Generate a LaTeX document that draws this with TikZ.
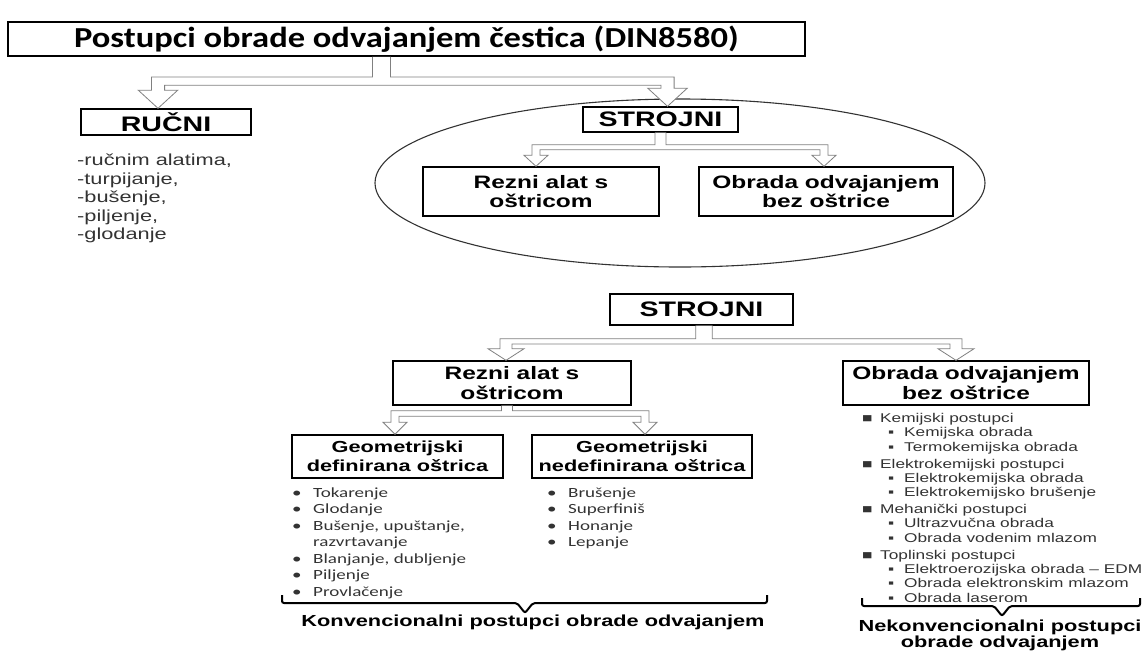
\documentclass[tikz,border=0pt]{standalone}
\usepackage{fontspec}
\usetikzlibrary{calc}
\newfontfamily\arialw{Liberation Sans}[FakeStretch=1.36]
\newfontfamily\calw{Carlito}[FakeStretch=1.36]
\newfontfamily\calt{Carlito}[FakeStretch=1.19]
\newcommand{\fsz}[2]{\fontsize{#1}{#2}\selectfont}
\newcommand{\bitem}[1]{\makebox[21pt][l]{•}#1}
\newcommand{\mitem}[1]{\makebox[18pt][l]{■}#1}
\newcommand{\sitem}[1]{\hspace*{26pt}\makebox[16pt][l]{▪}#1}
% source, stem shift, left target, left shift, right target, right shift, width factor, drop, height factor
\newcommand{\forkarrow}[9]{%
  \pgfmathsetmacro\fkstem{5.5*#7}\pgfmathsetmacro\fkbranch{4*#7}\pgfmathsetmacro\fkhead{12*#7}%
  \pgfmathsetmacro\fkgap{5*#9}\pgfmathsetmacro\fkheadh{11*#9}%
  \draw[forkline] let \p1=([xshift=#2pt]#1.south), \p2=([xshift=#4pt]#3.north), \p3=([xshift=#6pt]#5.north) in
    (\x1-\fkstem pt,\y1) -- (\x1-\fkstem pt,\y1-#8pt) -- (\x2-\fkbranch pt,\y1-#8pt)
    -- (\x2-\fkbranch pt,\y2+\fkheadh pt) -- (\x2-\fkhead pt,\y2+\fkheadh pt) -- (\p2)
    -- (\x2+\fkhead pt,\y2+\fkheadh pt) -- (\x2+\fkbranch pt,\y2+\fkheadh pt)
    -- (\x2+\fkbranch pt,\y1-#8pt-\fkgap pt) -- (\x3-\fkbranch pt,\y1-#8pt-\fkgap pt)
    -- (\x3-\fkbranch pt,\y3+\fkheadh pt) -- (\x3-\fkhead pt,\y3+\fkheadh pt) -- (\p3)
    -- (\x3+\fkhead pt,\y3+\fkheadh pt) -- (\x3+\fkbranch pt,\y3+\fkheadh pt)
    -- (\x3+\fkbranch pt,\y1-#8pt) -- (\x1+\fkstem pt,\y1-#8pt) -- (\x1+\fkstem pt,\y1);
}

\begin{document}
\begin{tikzpicture}[x=1pt, y=-1pt,
    headbox/.style={draw, line width=1.4pt, fill=white, align=center, inner sep=0pt},
    lst/.style={anchor=north west, align=left, inner sep=0pt, text=black!80},
    forkline/.style={draw=gray, line width=0.8pt, fill=white},
    brace/.style={line width=2pt, rounded corners=2pt}
]
    \useasboundingbox (0,0) rectangle (1148,651);

    % Top
    \node[headbox, line width=1.8pt, minimum width=797, minimum height=34, font=\calt\bfseries\fsz{29}{31}] (title) at (406.5,39) {Postupci obrade odvajanjem čestica (DIN8580)};

    % Rucni
    \node[headbox, minimum width=170, minimum height=26, font=\arialw\bfseries\fsz{21}{24}] (rucni) at (166,122) {RUČNI};
    \node[lst, font=\arialw\fsz{16}{18.5}] (rlist) at (77,154) {-ručnim alatima,\\-turpijanje,\\-bušenje,\\-piljenje,\\-glodanje};

    % Strojni (ellipse)
    \draw[line width=1.1pt, black!80] (680,183) ellipse [x radius=305, y radius=84];
    \node[headbox, minimum width=155, minimum height=25, font=\arialw\bfseries\fsz{21}{24}] (strojA) at (660.5,119.5) {STROJNI};
    \node[headbox, minimum width=236, minimum height=49, font=\arialw\bfseries\fsz{18}{19.5}] (reznA) at (541,191.5) {Rezni alat s\\oštricom};
    \node[headbox, minimum width=254, minimum height=49, font=\arialw\bfseries\fsz{18}{19.5}] (obradaA) at (826,191.5) {Obrada odvajanjem\\bez oštrice};

    % Strojni (detail)
    \node[headbox, minimum width=183, minimum height=31, font=\arialw\bfseries\fsz{21}{24}] (strojB) at (701.5,309.5) {STROJNI};
    \node[headbox, minimum width=238, minimum height=44, font=\arialw\bfseries\fsz{18}{19.5}] (reznB) at (512,383) {Rezni alat s\\oštricom};
    \node[headbox, minimum width=246, minimum height=44, font=\arialw\bfseries\fsz{18}{19.5}] (obradaB) at (966,383) {Obrada odvajanjem\\bez oštrice};
    \node[headbox, minimum width=211, minimum height=43, font=\arialw\bfseries\fsz{16}{19}] (geodef) at (397.5,456.5) {Geometrijski\\definirana oštrica};
    \node[headbox, minimum width=220, minimum height=43, font=\arialw\bfseries\fsz{16}{19}] (geonedef) at (642,456.5) {Geometrijski\\nedefinirana oštrica};

    % Lists
    \node[lst, font=\calw\fsz{14}{16.5}] (gdlist) at (292,487.5) {\bitem{Tokarenje}\\\bitem{Glodanje}\\\bitem{Bušenje, upuštanje,}\\\hspace*{21pt}razvrtavanje\\\bitem{Blanjanje, dubljenje}\\\bitem{Piljenje}\\\bitem{Provlačenje}};
    \node[lst, font=\calw\fsz{14}{16.5}] (gnlist) at (547,487.5) {\bitem{Brušenje}\\\bitem{Superfiniš}\\\bitem{Honanje}\\\bitem{Lepanje}};
    \node[lst, font=\arialw\fsz{12.7}{14.3}] (nklist) at (862,413) {\mitem{Kemijski postupci}\\\sitem{Kemijska obrada}\\\sitem{Termokemijska obrada}\\[2.7pt]
        \mitem{Elektrokemijski postupci}\\\sitem{Elektrokemijska obrada}\\\sitem{Elektrokemijsko brušenje}\\[2.7pt]
        \mitem{Mehanički postupci}\\\sitem{Ultrazvučna obrada}\\\sitem{Obrada vodenim mlazom}\\[2.7pt]
        \mitem{Toplinski postupci}\\\sitem{Elektroerozijska obrada – EDM}\\\sitem{Obrada elektronskim mlazom}\\\sitem{Obrada laserom}};

    % Group labels
    \node[font=\arialw\bfseries\fsz{16}{18}] (konv) at (533,622) {Konvencionalni postupci obrade odvajanjem};
    \node[align=center, font=\arialw\bfseries\fsz{16}{16}] (nekonv) at (1000,635.5) {Nekonvencionalni postupci\\obrade odvajanjem};
    \draw[brace] (282,595) -- (282,603) -- (517,603) -- (525,613) -- (533,603) -- (767,603) -- (767,595);
    \draw[brace] (862,598) -- (862,606) -- (994,606) -- (1002,616) -- (1010,606) -- (1140,606) -- (1140,598);

    % Arrows
    \forkarrow{title}{-25}{rucni}{-8}{strojA}{7}{1.65}{20}{1.65}
    \forkarrow{strojA}{0}{reznA}{-5}{obradaA}{-2}{1}{12}{1}
    \forkarrow{strojB}{2.5}{reznB}{-6}{obradaB}{-10}{1.5}{13}{1.05}
    \forkarrow{reznB}{-5}{geodef}{-2.5}{geonedef}{3}{1}{5}{1.1}
\end{tikzpicture}
\end{document}
